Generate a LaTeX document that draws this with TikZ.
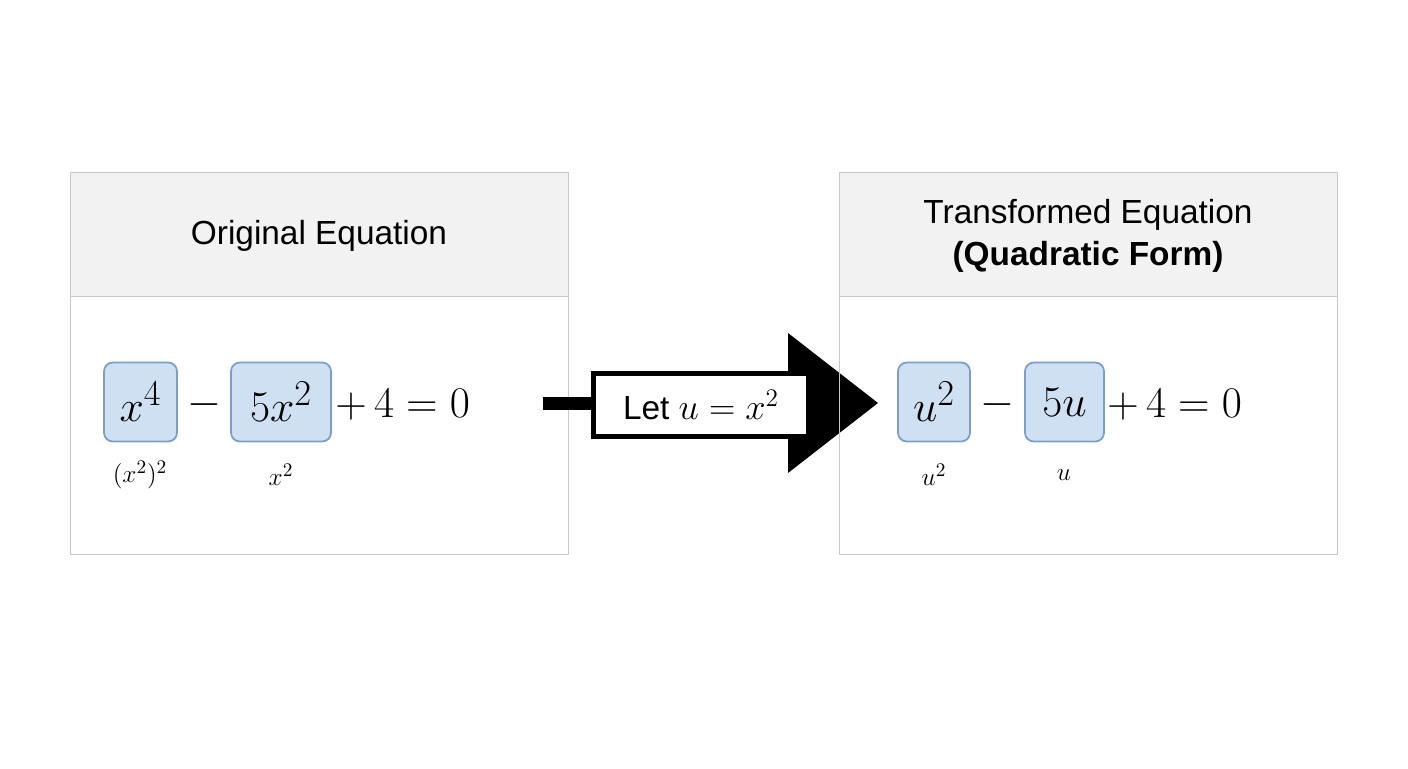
\documentclass[tikz,border=0pt]{standalone}
\usepackage{fontspec}
\setsansfont{Liberation Sans}
\usetikzlibrary{positioning}
\definecolor{termfill}{HTML}{CFE0F3}
\definecolor{termline}{HTML}{7A9FCB}
\definecolor{headfill}{HTML}{F2F2F2}
\definecolor{frameline}{HTML}{C8C8C8}
\tikzset{
  term/.style={draw=termline, fill=termfill, rounded corners=5pt, line width=1pt, inner sep=0pt, minimum height=1.58cm, font=\fontsize{32}{38}\selectfont},
  eqtext/.style={inner sep=0pt, font=\fontsize{32}{38}\selectfont},
  hint/.style={inner sep=0pt, font=\fontsize{15}{18}\selectfont},
  heading/.style={align=center, font=\sffamily\fontsize{19}{24}\selectfont}
}
\begin{document}
\begin{tikzpicture}[x=0.02cm,y=-0.02cm]
				\useasboundingbox (0,0) rectangle (1408,768);
				% left panel
				\draw[frameline, fill=headfill] (70,172) rectangle (568,296);
				\draw[frameline] (70,296) rectangle (568,554);
				\node[heading] (lhead) at (319,236) {Original Equation};
				\node[term, minimum width=1.46cm] (x4) at (140.5,402) {$x^4$};
				\node[eqtext] (lminus) at (204,405) {$-$};
				\node[term, minimum width=2cm] (x52) at (281,402) {$5x^2$};
				\node[eqtext, anchor=west] (lrest) at (335,405) {$+\,4=0$};
				\node[hint] (lhint1) at (140,475) {$(x^2)^2$};
				\node[hint] (lhint2) at (281,475) {$x^2$};
				% substitution arrow
				\fill (543,397) rectangle (592,410);
				\fill (788,333) -- (878,403) -- (788,473) -- cycle;
				\node[draw, line width=3pt, fill=white, minimum width=4.3cm, minimum height=1.25cm, font=\sffamily\fontsize{19}{24}\selectfont] (subst) at (701,405) {Let {\fontsize{22}{26}\selectfont$u=x^2$}};
				% right panel
				\draw[frameline, fill=headfill] (839,172) rectangle (1337,296);
				\draw[frameline] (839,296) rectangle (1337,554);
				\node[heading] (rhead) at (1088,236) {Transformed Equation\\\textbf{(Quadratic Form)}};
				\node[term, minimum width=1.44cm] (u2) at (934,402) {$u^2$};
				\node[eqtext] (rminus) at (997,405) {$-$};
				\node[term, minimum width=1.58cm] (u5) at (1064.5,402) {$5u$};
				\node[eqtext, anchor=west] (rrest) at (1107,405) {$+\,4=0$};
				\node[hint] (rhint1) at (934,475) {$u^2$};
				\node[hint] (rhint2) at (1064,475) {$u$};
			\end{tikzpicture}
\end{document}
